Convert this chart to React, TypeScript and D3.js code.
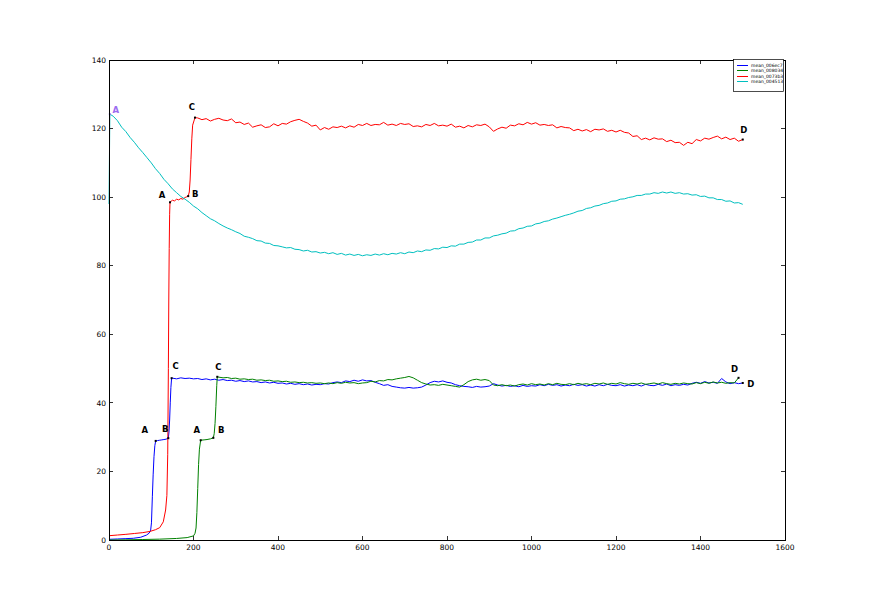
import React from "react";
import * as d3 from "d3";

// ---------- data ----------
const xTicks = [0, 200, 400, 600, 800, 1000, 1200, 1400, 1600];
const yTicks = [0, 20, 40, 60, 80, 100, 120, 140];

const seriesNames = ["mean_006ec7", "mean_008034", "mean_0073b3", "mean_004513"];
const seriesColors = ["#0000ff", "#008000", "#ff0000", "#00bfbf"];

// irregular heads (x, y), then regularly sampled tails (start, step 10, values)
const blueHead: [number, number][] = [
  [0, 0.2], [20, 0.3], [40, 0.4], [57.5, 0.5], [75, 0.8], [89, 1.45], [95, 2.0], [98.6, 2.9],
  [100.5, 5], [102.6, 12.6], [104.5, 19], [106.5, 24.3], [108.5, 27.5], [110.5, 28.9], [115, 29.0],
  [120, 29.1], [125, 29.2], [130, 29.3], [135, 29.4], [140.4, 29.7], [142, 31.5], [143.5, 35],
  [145, 40], [146.5, 44.5], [148.2, 47.2],
];
const blueTailStart = 150;
const blueTail = [
  47.2, 47.0, 47.3, 47.1, 47.2, 47.0, 47.1, 46.8, 47.0, 46.7,
  46.9, 46.6, 46.8, 46.5, 46.6, 46.3, 46.5, 46.2, 46.4, 46.1,
  46.2, 45.9, 46.1, 45.8, 46.0, 45.7, 45.8, 45.5, 45.7, 45.4,
  45.6, 45.3, 45.5, 45.2, 45.4, 45.3, 45.6, 45.5, 45.9, 46.1,
  45.9, 46.4, 46.2, 46.6, 46.3, 46.7, 46.4, 46.5, 46.0, 45.6,
  45.1, 45.3, 44.8, 44.6, 44.4, 44.3, 44.5, 44.3, 44.4, 44.6,
  45.2, 45.9, 46.3, 46.1, 46.4, 46.0, 45.8, 45.3, 45.0, 44.8,
  44.7, 44.5, 44.8, 44.6, 44.7, 44.9, 45.6, 45.2, 44.9, 45.1,
  44.8, 45.0, 44.7, 45.1, 44.8, 45.0, 44.9, 45.3, 45.0, 45.4,
  45.1, 45.3, 44.9, 45.2, 45.0, 45.4, 45.1, 45.3, 44.9, 45.2,
  44.9, 45.3, 45.0, 45.4, 45.1, 45.0, 45.3, 44.9, 45.2, 45.0,
  45.3, 44.9, 45.4, 45.1, 45.0, 45.4, 45.1, 45.5, 45.0, 45.3,
  45.1, 45.4, 45.2, 45.7, 46.0, 45.7, 46.2, 45.8, 46.0, 45.7,
  47.1, 46.1, 45.6, 45.9, 45.6, 45.8,
];

const greenHead: [number, number][] = [
  [0, 0.0], [40, 0.05], [80, 0.15], [120, 0.25], [160, 0.45], [185, 0.7], [200, 1.2], [203.6, 1.95],
  [206, 3.5], [208, 8], [210, 15], [212, 22], [214, 26.5], [217, 29.1], [225, 29.2], [232, 29.3],
  [240, 29.5], [246.9, 29.8], [249, 31], [251, 34], [253, 39], [255, 45], [256.3, 47.6],
];
const greenTailStart = 260;
const greenTail = [
  47.5, 47.3, 47.4, 47.1, 47.2, 46.9, 47.0, 46.8, 46.9, 46.6,
  46.7, 46.5, 46.6, 46.3, 46.4, 46.2, 46.3, 46.0, 46.1, 45.9,
  46.0, 45.8, 45.9, 45.7, 45.8, 45.6, 45.8, 45.6, 45.9, 45.7,
  46.0, 45.8, 45.9, 45.6, 45.8, 45.9, 46.3, 46.1, 46.5, 46.4,
  46.8, 46.7, 47.0, 47.2, 47.4, 47.7, 47.3, 46.6, 45.9, 45.5,
  45.2, 45.3, 45.1, 45.4, 45.2, 45.0, 44.8, 44.6, 45.3, 46.2,
  46.7, 46.9, 46.6, 46.8, 46.5, 45.2, 45.0, 45.3, 45.0, 45.2,
  44.9, 45.3, 45.5, 45.2, 45.6, 45.3, 45.5, 45.2, 45.6, 45.3,
  45.7, 45.4, 45.3, 45.6, 45.3, 45.7, 45.4, 45.6, 45.3, 45.7,
  45.5, 45.8, 45.4, 45.7, 45.5, 45.9, 45.6, 45.4, 45.7, 45.5,
  45.8, 45.4, 45.6, 45.8, 45.5, 45.9, 45.6, 45.4, 45.7, 45.5,
  45.8, 45.6, 45.5, 45.9, 45.6, 46.0, 45.7, 46.1, 45.8, 46.0,
  45.7, 45.9, 45.8, 47.3,
];

const redHead: [number, number][] = [
  [0, 1.25], [20, 1.45], [40, 1.65], [60, 1.9], [80, 2.15], [97, 2.5], [110, 3.0], [120, 3.6],
  [128.5, 5.3], [134, 8.75], [137, 13], [139, 25], [140.5, 50], [141.5, 70], [142.5, 85], [143.5, 95],
  [144.4, 98.5], [150, 99.1], [155, 98.9], [160, 99.4], [165, 99.2], [170, 99.6], [175, 99.4],
  [180, 99.9], [184, 100.1], [187.5, 100.3], [190, 101.5], [192, 105], [194, 111], [196, 117],
  [198, 121], [203.5, 123.2],
];
const redTailStart = 210;
const redTail = [
  123.1, 122.6, 122.9, 122.2, 122.7, 123.0, 122.5, 122.3, 122.8, 121.7,
  121.9, 121.2, 121.6, 120.4, 120.8, 121.1, 120.3, 120.5, 121.4, 120.8,
  121.5, 121.3, 122.0, 122.4, 122.7, 122.1, 121.6, 120.7, 121.0, 119.6,
  120.3, 119.8, 120.5, 120.3, 120.7, 120.2, 120.8, 120.4, 121.2, 120.9,
  121.5, 120.9, 121.2, 121.1, 121.8, 121.0, 121.3, 120.9, 121.5, 121.2,
  121.4, 120.6, 120.8, 120.5, 121.2, 120.9, 121.5, 120.8, 121.0, 120.7,
  121.3, 120.4, 120.7, 120.2, 120.9, 120.5, 121.1, 120.9, 121.3, 120.5,
  119.2, 119.9, 120.4, 120.1, 121.0, 120.8, 121.4, 121.1, 121.8, 121.3,
  121.7, 121.0, 121.2, 120.9, 121.1, 120.2, 120.6, 120.3, 120.2, 119.4,
  119.8, 119.3, 119.7, 119.1, 119.8, 119.6, 119.9, 119.2, 119.5, 119.0,
  119.5, 118.9, 118.7, 117.7, 117.9, 116.8, 117.2, 116.7, 117.3, 116.9,
  117.0, 116.2, 116.6, 115.9, 116.0, 115.1, 116.0, 115.6, 116.8, 116.4,
  117.2, 116.9, 117.4, 117.8, 117.0, 117.5, 116.8, 117.2, 116.3, 116.8,
];

const cyanHead: [number, number][] = [[0, 98.0], [2, 124.2]];
const cyanTailStart = 10;
const cyanTail = [
  123.6, 122.3, 120.4, 119.1, 117.4, 116.0, 114.4, 113.0, 111.5, 110.0,
  108.3, 106.9, 105.2, 103.9, 102.4, 101.3, 100.2, 99.4, 98.5, 97.4,
  96.6, 95.5, 94.6, 93.7, 93.1, 92.3, 91.6, 91.0, 90.5, 89.9,
  89.4, 88.6, 88.3, 87.9, 87.3, 87.2, 86.6, 86.5, 85.9, 85.8,
  85.5, 85.2, 85.3, 84.8, 84.7, 84.3, 84.5, 84.0, 84.1, 83.7,
  83.9, 83.5, 83.8, 83.3, 83.6, 83.1, 83.4, 83.0, 83.3, 82.9,
  83.2, 83.0, 83.4, 83.1, 83.5, 83.2, 83.6, 83.4, 83.8, 83.5,
  84.0, 83.8, 84.3, 84.1, 84.6, 84.5, 85.0, 84.9, 85.4, 85.3,
  85.8, 85.7, 86.3, 86.3, 86.8, 86.9, 87.5, 87.5, 88.1, 88.1,
  88.7, 88.9, 89.3, 89.5, 90.1, 90.2, 90.8, 91.0, 91.5, 91.6,
  92.2, 92.4, 92.9, 93.1, 93.6, 93.9, 94.3, 94.7, 95.0, 95.4,
  95.9, 96.1, 96.7, 96.9, 97.4, 97.6, 98.1, 98.3, 98.8, 98.9,
  99.4, 99.5, 99.9, 100.1, 100.5, 100.5, 100.9, 100.9, 101.3, 101.1,
  101.5, 101.2, 101.5, 101.1, 101.3, 100.9, 101.0, 100.6, 100.7, 100.2,
  100.3, 99.8, 99.8, 99.3, 99.3, 98.8, 98.9, 98.3, 98.4, 97.9,
];

// key points (label, x) per series; y looked up from data
const blueKeys = [["A", 110.5], ["B", 140.4], ["C", 148.2], ["D", 1500]] as [string, number][];
const greenKeys = [["A", 217], ["B", 246.9], ["C", 256.3], ["D", 1490]] as [string, number][];
const redKeys = [["A", 144.4], ["B", 187.5], ["C", 203.5], ["D", 1500]] as [string, number][];
const cyanKeys = [["A", 2]] as [string, number][];

// ---------- styling ----------
const W = 872, H = 600;
const L = 109, R = 785, T = 60, B = 540;
const labelOffsets: Record<string, [number, number][]> = {
  blue: [[-11, -8], [-3, -6], [4, -9], [8, 4]],
  green: [[-4, -7], [8, -5], [1, -7], [-4, -6]],
  red: [[-8, -4], [7, 1], [-3, -8], [1, -7]],
  cyan: [[6, -1]],
};

function build(head: [number, number][], start: number, tail: number[]): [number, number][] {
  const out = head.slice();
  tail.forEach((v, i) => out.push([start + i * 10, v]));
  return out;
}

const series = [
  { key: "blue", data: build(blueHead, blueTailStart, blueTail), keys: blueKeys },
  { key: "green", data: build(greenHead, greenTailStart, greenTail), keys: greenKeys },
  { key: "red", data: build(redHead, redTailStart, redTail), keys: redKeys },
  { key: "cyan", data: build(cyanHead, cyanTailStart, cyanTail), keys: cyanKeys },
];

export default function App() {
  const x = d3.scaleLinear().domain([0, 1600]).range([L, R]);
  const y = d3.scaleLinear().domain([0, 140]).range([B, T]);
  const line = d3.line<[number, number]>().x((d) => x(d[0])).y((d) => y(d[1]));
  const font = "'DejaVu Sans', sans-serif";

  const lookup = (data: [number, number][], xv: number) => {
    let best = data[0];
    for (const d of data) if (Math.abs(d[0] - xv) < Math.abs(best[0] - xv)) best = d;
    return best;
  };

  return (
    <svg width={W} height={H} style={{ position: "absolute", left: 0, top: 0, background: "#fff" }}>
      <rect x={0} y={0} width={W} height={H} fill="#fff" />
      {/* lines */}
      {series.map((s, i) => (
        <path key={s.key} d={line(s.data) || ""} fill="none" stroke={seriesColors[i]} strokeWidth={1} strokeLinejoin="round" />
      ))}
      {/* key points */}
      {series.map((s) =>
        s.keys.map(([lab, xv], j) => {
          const p = lookup(s.data, xv);
          const off = labelOffsets[s.key][j];
          const isCyan = s.key === "cyan";
          const col = isCyan ? "#9b6cf0" : "#000";
          return (
            <g key={s.key + lab}>
              <rect x={x(p[0]) - 1} y={y(p[1]) - 1} width={2} height={2} fill={col} />
              <text x={x(p[0]) + off[0]} y={y(p[1]) + off[1]} fontFamily={font} fontWeight="bold" fontSize={8.5} fill={col} textAnchor="middle">
                {lab}
              </text>
            </g>
          );
        })
      )}
      {/* frame */}
      <rect x={L} y={T} width={R - L} height={B - T} fill="none" stroke="#000" strokeWidth={1} shapeRendering="crispEdges" />
      {/* x ticks */}
      {xTicks.map((t) => (
        <g key={"x" + t}>
          <line x1={x(t)} x2={x(t)} y1={B} y2={B - 4} stroke="#000" strokeWidth={0.8} shapeRendering="crispEdges" />
          <line x1={x(t)} x2={x(t)} y1={T} y2={T + 4} stroke="#000" strokeWidth={0.8} shapeRendering="crispEdges" />
          <text x={x(t)} y={B + 10} fontFamily={font} fontSize={7.5} textAnchor="middle" fill="#000">{t}</text>
        </g>
      ))}
      {/* y ticks */}
      {yTicks.map((t) => (
        <g key={"y" + t}>
          <line x1={L} x2={L + 4} y1={y(t)} y2={y(t)} stroke="#000" strokeWidth={0.8} shapeRendering="crispEdges" />
          <line x1={R} x2={R - 4} y1={y(t)} y2={y(t)} stroke="#000" strokeWidth={0.8} shapeRendering="crispEdges" />
          <text x={L - 3} y={y(t) + 2.7} fontFamily={font} fontSize={7.5} textAnchor="end" fill="#000">{t}</text>
        </g>
      ))}
      {/* legend */}
      <rect x={733.5} y={59.5} width={50} height={32} fill="#fff" stroke="#000" strokeWidth={0.7} />
      {seriesNames.map((n, i) => {
        const ly = Math.round(65 + i * 5.4) + 0.5;
        return (
          <g key={n}>
            <line x1={737} x2={748} y1={ly} y2={ly} stroke={seriesColors[i]} strokeWidth={1} />
            <text x={751} y={ly + 1.6} fontFamily={font} fontSize={4.5} fill="#000">{n}</text>
          </g>
        );
      })}
    </svg>
  );
}
